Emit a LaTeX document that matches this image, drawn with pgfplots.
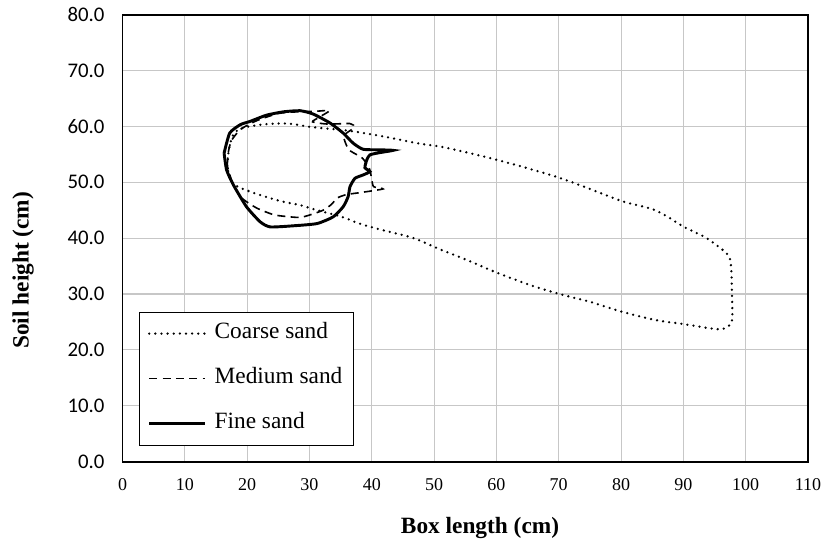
\documentclass[border=0pt]{standalone}
\usepackage{fontspec}
\setmainfont{Liberation Serif}
\newfontfamily\carlito{Carlito}
\usepackage{pgfplots}
\pgfplotsset{compat=1.18}
\begin{document}
\begin{tikzpicture}
\path[use as bounding box] (-91.9pt,-62.6pt) rectangle (529.1pt,346.2pt);
\begin{axis}[
  at={(0,0)}, anchor=south west,
  scale only axis, width=514.1pt, height=335.25pt,
  xmin=0, xmax=110, ymin=0, ymax=80,
  xtick distance=10, ytick distance=10,
  grid=major, grid style={color=black!22, line width=0.8pt},
  axis line style={line width=1.4pt},
  major tick length=0pt,
  /pgf/number format/assume math mode=true,
  xticklabel style={font=\fontsize{13.5}{13.5}\selectfont, yshift=-9pt},
  yticklabel style={font=\carlito\fontsize{15.6}{15.6}\selectfont, xshift=-10pt},
  y tick label style={/pgf/number format/.cd, fixed, fixed zerofill, precision=1},
  xlabel={Box length (cm)},
  ylabel={Soil height (cm)},
  xlabel style={at={([yshift=-50pt]rel axis cs:0.5215,0)}, anchor=center, font=\bfseries\fontsize{17.5}{17.5}\selectfont},
  ylabel style={at={([xshift=-74.5pt]rel axis cs:0,0.428)}, anchor=center, font=\bfseries\fontsize{17.5}{17.5}\selectfont},
  legend style={at={(rel axis cs:0.0245,0.335)}, anchor=north west, draw=black, line width=0.6pt,
    font=\fontsize{17.5}{17.5}\selectfont, inner sep=6pt, row sep=13.75pt,
    nodes={text height=12pt, text depth=4pt, inner sep=2pt}},
  legend cell align=left,
  legend image code/.code={\draw[#1] (6pt,0pt) -- (48pt,0pt); \path (52pt,0pt);},
]
\addplot[black, line width=1.9pt, line cap=round, dash pattern=on 0pt off 4.6pt, smooth, tension=0.5] coordinates {
(16.8,53) (17.1,56) (17.8,58.6) (19,59.6) (20.5,60) (23.1,60.4) (26.6,60.5) (30.1,59.9) (33.8,59.5) (37,59.1) (41.8,58.2) (47.2,57) (50.9,56.4) (54.2,55.6) (60.1,54) (65,52.5) (70.1,50.8) (75,48.8) (80.2,46.6) (85,45.2) (87.5,43.8) (90.1,42) (93.7,40) (96.9,37.3) (97.6,35.5) (97.8,30.1) (97.8,25.3) (96.9,24) (95.3,23.7) (90.1,24.6) (85.7,25.3) (80.2,26.8) (75,28.6) (70.1,30) (65.4,31.6) (60.1,33.8) (55,36.2) (50.9,38) (46.7,40) (41.8,41.4) (38,42.6) (35.2,43.8) (31.2,45) (28.5,45.9) (25.8,46.5) (22.1,47.7) (18.5,49.2) (17.3,50.5) (16.8,53)
};
\addlegendentry{Coarse sand}
\addplot[black, line width=1.2pt, dash pattern=on 6pt off 4pt, smooth, tension=0.4] coordinates {
(16.8,53) (17,55.5) (17.5,57.5) (19,59.5) (21.5,61) (25,62.3) (28,62.6) (31,62.7) (33.2,62.8) (31.5,61.6) (30.5,60.8) (33,60.4) (36.5,60.5) (37.2,59.8) (35.5,58.3) (36.2,56) (37,55.3) (38.5,54.3) (39.6,52.5) (40,50.5) (40.3,49.2) (41.8,48.8) (38.5,48.2) (36,47.8) (34.5,47.2) (33.5,46) (32.2,45) (30.5,44.3) (28.5,43.7) (26,43.9) (24.2,44.2) (21.5,45.4) (19,47.3) (17.6,50) (16.8,53)
};
\addlegendentry{Medium sand}
\addplot[black, line width=2.2pt, smooth, tension=0.35] coordinates {
(16.3,55.2) (17.2,58.8) (18.9,60.3) (20.5,60.9) (23.1,62) (25.8,62.6) (28.5,62.8) (30.6,62.2) (33.3,60.6) (35.4,58.8) (37,57) (38.6,55.9) (41.3,55.8) (43.4,55.7) (41.3,55.3) (39.7,54.9) (39.2,54) (38.9,52.6) (39.7,51.9) (38.6,51.3) (37.3,50.7) (36.5,49.2) (36.2,47.4) (35.4,45.6) (33.8,43.8) (31.2,42.6) (27.4,42.2) (23.7,42) (22.1,42.9) (19.9,45.6) (17.8,49.5) (16.7,52.2) (16.3,55.2)
};
\addlegendentry{Fine sand}
\end{axis}
\end{tikzpicture}
\end{document}
